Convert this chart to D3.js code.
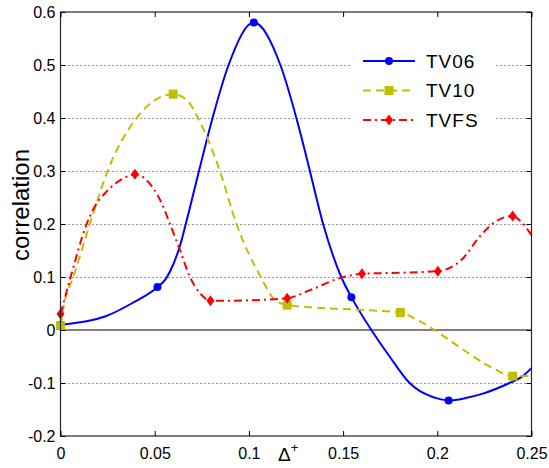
<!DOCTYPE html>
<html>
<head>
<meta charset="utf-8">
<script src="https://cdn.jsdelivr.net/npm/d3@7"></script>
<style>
  body { margin: 0; background: #fff; }
  text { font-family: "Liberation Sans", Arial, sans-serif; }
</style>
</head>
<body>
<svg id="chart" width="549" height="468"></svg>
<script>
// values: [delta, correlation]
var tv06 = [[0, 0.01], [0.013, 0.016], [0.024, 0.026], [0.0377, 0.05], [0.0515, 0.081], [0.056, 0.097],
            [0.06, 0.125], [0.0635, 0.16], [0.0665, 0.2], [0.0735, 0.3], [0.0807, 0.4], [0.0892, 0.5],
            [0.1026, 0.58], [0.1167, 0.5], [0.1252, 0.4], [0.131, 0.32], [0.1394, 0.2], [0.149, 0.1],
            [0.1544, 0.062], [0.165, 0], [0.1747, -0.05], [0.1853, -0.1], [0.1906, -0.115], [0.1959, -0.124],
            [0.2, -0.129], [0.206, -0.133], [0.215, -0.1285], [0.2242, -0.12], [0.2383, -0.1], [0.245, -0.088],
            [0.25, -0.072]]
var tv06Marks = [0, 4, 12, 18, 25]

var tv10 = [[0, 0.008], [0.002, 0.05], [0.0068, 0.1], [0.0156, 0.2], [0.025, 0.3], [0.0404, 0.4],
            [0.0598, 0.445], [0.0678, 0.431], [0.073, 0.4], [0.0846, 0.3], [0.0934, 0.2], [0.1063, 0.1],
            [0.1137, 0.057], [0.1203, 0.047], [0.1588, 0.038], [0.1804, 0.033], [0.19, 0.018], [0.1986, 0],
            [0.21, -0.028], [0.22, -0.052], [0.23, -0.073], [0.24, -0.087], [0.25, -0.087]]
var tv10Marks = [0, 6, 13, 15, 21]

var tvfs = [[0, 0.03], [0.005, 0.095], [0.0139, 0.2], [0.0185, 0.235], [0.0236, 0.258], [0.0324, 0.284],
            [0.0395, 0.294], [0.045, 0.285], [0.0495, 0.266], [0.0537, 0.239], [0.058, 0.201], [0.0634, 0.151],
            [0.0687, 0.1], [0.0749, 0.066], [0.0796, 0.055], [0.1, 0.056], [0.1203, 0.06], [0.1323, 0.075],
            [0.148, 0.0975], [0.16, 0.106], [0.18, 0.108], [0.2003, 0.111], [0.2136, 0.135], [0.2224, 0.176],
            [0.2295, 0.201], [0.24, 0.215], [0.2445, 0.204], [0.25, 0.179]]
var tvfsMarks = [0, 6, 14, 16, 19, 21, 25]

var xTicks = [0, 0.05, 0.1, 0.15, 0.2, 0.25]
var yTicks = [-0.2, -0.1, 0, 0.1, 0.2, 0.3, 0.4, 0.5, 0.6]

var svg = d3.select("#chart")

var marginLeft = 60.5, marginTop = 12, width = 471, height = 424

var x = d3.scaleLinear().domain([0, 0.25]).range([marginLeft, marginLeft + width])
var y = d3.scaleLinear().domain([-0.2, 0.6]).range([marginTop + height, marginTop])

// dotted grid
svg.append("g")
   .selectAll("line")
   .data(yTicks.filter(function(d) { return d > -0.2 && d < 0.6 && d != 0 }))
   .enter().append("line")
   .attr("x1", marginLeft).attr("x2", marginLeft + width)
   .attr("y1", function(d) { return Math.round(y(d)) + 0.5 })
   .attr("y2", function(d) { return Math.round(y(d)) + 0.5 })
   .attr("stroke", "#333")
   .attr("stroke-width", 1)
   .attr("stroke-dasharray", "1,3")

// zero line
svg.append("line")
   .attr("x1", marginLeft).attr("x2", marginLeft + width)
   .attr("y1", y(0)).attr("y2", y(0))
   .attr("stroke", "#808080")
   .attr("stroke-width", 2)

var line = d3.line()
    .x(function(d) { return x(d[0]) })
    .y(function(d) { return y(d[1]) })
    .curve(d3.curveMonotoneX)

var series = [
    { data: tv06, marks: tv06Marks, color: "#0000ff", dash: null, marker: "circle" },
    { data: tv10, marks: tv10Marks, color: "#bfbf00", dash: "8,5", marker: "square" },
    { data: tvfs, marks: tvfsMarks, color: "#ff0000", dash: "8,4,2,4", marker: "diamond" }
]

var plot = svg.append("g")

function drawMarker(g, kind, cx, cy, color) {
    if (kind == "circle") {
        g.append("circle").attr("cx", cx).attr("cy", cy).attr("r", 4).attr("fill", color)
    } else if (kind == "square") {
        g.append("rect").attr("x", cx - 4.5).attr("y", cy - 4.5)
         .attr("width", 9).attr("height", 9).attr("fill", color)
    } else {
        g.append("path")
         .attr("d", "M" + cx + "," + (cy - 5.5) + "L" + (cx + 4) + "," + cy + "L" + cx + "," + (cy + 5.5) + "L" + (cx - 4) + "," + cy + "Z")
         .attr("fill", color)
    }
}

series.forEach(function(s) {
    plot.append("path")
        .datum(s.data)
        .attr("d", line)
        .attr("fill", "none")
        .attr("stroke", s.color)
        .attr("stroke-width", 2)
        .attr("stroke-dasharray", s.dash)
    s.marks.forEach(function(i) {
        drawMarker(plot, s.marker, x(s.data[i][0]), y(s.data[i][1]), s.color)
    })
})

// legend
var legend = svg.append("g")
legend.append("rect")
      .attr("x", 352).attr("y", 42).attr("width", 143).attr("height", 96)
      .attr("fill", "#fff")
var names = ["TV06", "TV10", "TVFS"]
series.forEach(function(s, i) {
    var ly = 61 + i * 29.5
    legend.append("line")
          .attr("x1", 363).attr("x2", 415).attr("y1", ly).attr("y2", ly)
          .attr("stroke", s.color).attr("stroke-width", 2)
          .attr("stroke-dasharray", s.dash)
    drawMarker(legend, s.marker, 389, ly, s.color)
    legend.append("text")
          .attr("x", 426).attr("y", ly + 6.5)
          .attr("font-size", "19px")
          .attr("letter-spacing", "1px")
          .text(names[i])
})

// box and ticks
svg.append("rect")
   .attr("x", marginLeft).attr("y", marginTop).attr("width", width).attr("height", height)
   .attr("fill", "none").attr("stroke", "#262626").attr("stroke-width", 1.2)

svg.append("g")
   .attr("transform", "translate(0," + (marginTop + height) + ")")
   .call(d3.axisBottom(x).tickValues(xTicks).tickSizeInner(-5).tickSizeOuter(0).tickPadding(12)
         .tickFormat(function(d) { return "" + d }))
   .call(function(g) { g.select(".domain").remove() })
   .call(function(g) { g.selectAll("text").attr("font-size", "16px").attr("fill", "#000").attr("font-family", null) })

svg.append("g")
   .attr("transform", "translate(0," + marginTop + ")")
   .call(d3.axisTop(x).tickValues(xTicks).tickSizeInner(-5).tickSizeOuter(0).tickFormat(""))
   .call(function(g) { g.select(".domain").remove() })

svg.append("g")
   .attr("transform", "translate(" + marginLeft + ",0)")
   .call(d3.axisLeft(y).tickValues(yTicks).tickSizeInner(-5).tickSizeOuter(0).tickPadding(5)
         .tickFormat(function(d) { return "" + d }))
   .call(function(g) { g.select(".domain").remove() })
   .call(function(g) { g.selectAll("text").attr("font-size", "16px").attr("fill", "#000").attr("font-family", null) })

svg.append("g")
   .attr("transform", "translate(" + (marginLeft + width) + ",0)")
   .call(d3.axisRight(y).tickValues(yTicks).tickSizeInner(-5).tickSizeOuter(0).tickFormat(""))
   .call(function(g) { g.select(".domain").remove() })

// axis labels
svg.append("text")
   .attr("transform", "translate(29,205) rotate(-90)")
   .attr("text-anchor", "middle")
   .attr("font-size", "24px")
   .text("correlation")

var xl = svg.append("text")
   .attr("x", 278).attr("y", 461)
   .attr("font-size", "19px")
xl.append("tspan").text("Δ")
xl.append("tspan").attr("dy", -9).attr("font-size", "13px").text("+")
</script>
</body>
</html>
